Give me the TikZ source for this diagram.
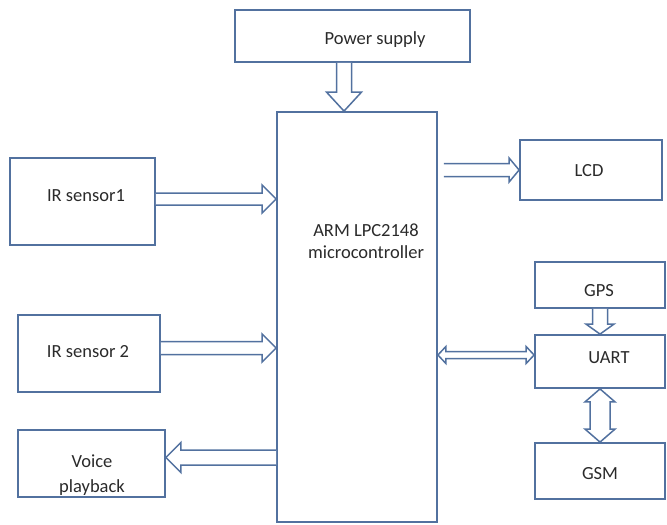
\documentclass[tikz,border=0pt]{standalone}
\usepackage{fontspec}
\setmainfont{Carlito}
\usetikzlibrary{calc}
\definecolor{bcol}{HTML}{52719F}
\definecolor{tcol}{HTML}{2A2A2A}
\tikzset{
  blk/.style={draw=bcol, line width=1.8pt, rectangle, inner sep=0pt},
  lbl/.style={text=tcol, font=\fontsize{18.5}{22}\selectfont, align=center, inner sep=0pt},
  barrow/.style={draw=bcol, line width=1.5pt, fill=white, line join=miter}
}
% right arrow: start, end(tip), shaft half, head half, head length
\newcommand{\arRt}[5]{\draw[barrow] ($(#1)+(0,-#3)$) -- ($(#2)+(-#5,-#3)$) -- ($(#2)+(-#5,-#4)$) -- (#2) -- ($(#2)+(-#5,#4)$) -- ($(#2)+(-#5,#3)$) -- ($(#1)+(0,#3)$);}
\newcommand{\arLt}[5]{\draw[barrow] ($(#1)+(0,-#3)$) -- ($(#2)+(#5,-#3)$) -- ($(#2)+(#5,-#4)$) -- (#2) -- ($(#2)+(#5,#4)$) -- ($(#2)+(#5,#3)$) -- ($(#1)+(0,#3)$);}
\newcommand{\arDn}[5]{\draw[barrow] ($(#1)+(-#3,0)$) -- ($(#2)+(-#3,-#5)$) -- ($(#2)+(-#4,-#5)$) -- (#2) -- ($(#2)+(#4,-#5)$) -- ($(#2)+(#3,-#5)$) -- ($(#1)+(#3,0)$);}
\newcommand{\arLR}[5]{\draw[barrow] ($(#1)+(#5,-#3)$) -- ($(#2)+(-#5,-#3)$) -- ($(#2)+(-#5,-#4)$) -- (#2) -- ($(#2)+(-#5,#4)$) -- ($(#2)+(-#5,#3)$) -- ($(#1)+(#5,#3)$) -- ($(#1)+(#5,#4)$) -- (#1) -- ($(#1)+(#5,-#4)$) -- cycle;}
\newcommand{\arUD}[5]{\draw[barrow] ($(#1)+(-#3,#5)$) -- ($(#2)+(-#3,-#5)$) -- ($(#2)+(-#4,-#5)$) -- (#2) -- ($(#2)+(#4,-#5)$) -- ($(#2)+(#3,-#5)$) -- ($(#1)+(#3,#5)$) -- ($(#1)+(#4,#5)$) -- (#1) -- ($(#1)+(-#4,#5)$) -- cycle;}
\begin{document}
\begin{tikzpicture}[x=1pt,y=-1pt]
\useasboundingbox (0,0) rectangle (667,525);
% boxes
\node[blk, minimum width=235pt, minimum height=52pt] (ps) at (352.5,36) {};
\node[lbl] (pst) at (375,40) {Power supply};
\node[blk, minimum width=160pt, minimum height=410pt] (mc) at (357,317) {};
\node[lbl] (mct) at (366,241) {ARM LPC2148\\microcontroller};
\node[blk, minimum width=145pt, minimum height=87pt] (ir1) at (82.5,201.5) {};
\node[lbl] (ir1t) at (86,196) {IR sensor1};
\node[blk, minimum width=142pt, minimum height=77pt] (ir2) at (89,353.5) {};
\node[lbl] (ir2t) at (88,352) {IR sensor 2};
\node[blk, minimum width=147pt, minimum height=67pt] (vp) at (91.5,463.5) {};
\node[lbl, font=\fontsize{18.5}{25.5}\selectfont] (vpt) at (92,475) {Voice\\playback};
\node[blk, minimum width=142pt, minimum height=60pt] (lcd) at (591,170) {};
\node[lbl] (lcdt) at (589,171) {LCD};
\node[blk, minimum width=130pt, minimum height=46pt] (gps) at (600,285) {};
\node[lbl] (gpst) at (599,291) {GPS};
\node[blk, minimum width=130pt, minimum height=53pt] (uart) at (600,361.5) {};
\node[lbl] (uartt) at (609,358) {UART};
\node[blk, minimum width=130pt, minimum height=56pt] (gsm) at (600,471) {};
\node[lbl] (gsmt) at (600,474) {GSM};
% connectors
\coordinate (psa) at ($(ps.south)+(-8.5,0)$);
\arDn{psa}{psa |- mc.north}{7.5}{17.5}{19}
\coordinate (ira) at ($(ir1.east)+(0,-2.5)$);
\arRt{ira}{ira -| mc.west}{6}{14}{14}
\coordinate (irb) at ($(ir2.east)+(0,-5.5)$);
\arRt{irb}{irb -| mc.west}{6.5}{14}{14}
\coordinate (vpa) at ($(vp.east)+(0,-6)$);
\arLt{vpa -| mc.west}{vpa}{7.5}{15}{15}
\coordinate (lca) at ($(mc.east)+(6,0)$);
\arRt{lca |- lcd.west}{lcd.west}{6.5}{12}{10}
\coordinate (uaa) at ($(uart.west)+(0,-6.5)$);
\arLR{uaa -| mc.east}{uaa}{3.5}{8.5}{8}
\arDn{gps.south}{uart.north}{7.5}{14}{10}
\arUD{uart.south}{gsm.north}{10}{15}{13}
\end{tikzpicture}
\end{document}
